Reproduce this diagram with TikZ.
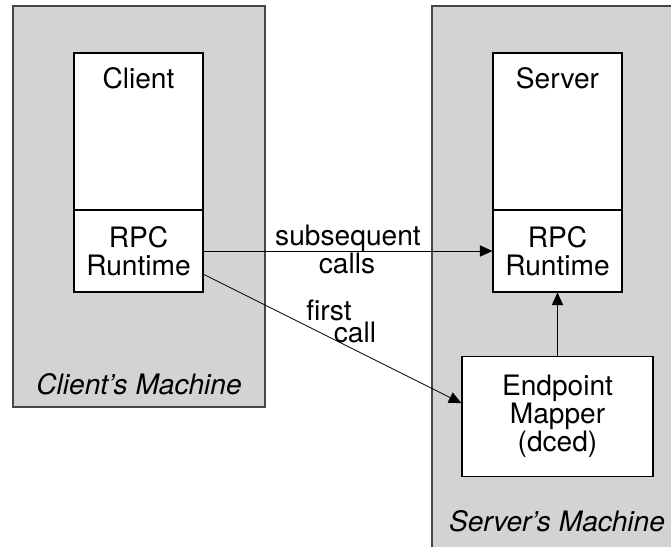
\documentclass[tikz,border=0pt]{standalone}
\usepackage{fontspec}
\setmainfont{TeX Gyre Heros}
\usetikzlibrary{arrows.meta,calc}
\definecolor{machinegray}{RGB}{210,211,213}
\definecolor{edgegray}{RGB}{70,70,70}
\begin{document}
\begin{tikzpicture}[x=0.03cm,y=-0.03cm,
		box/.style={draw,fill=white,line width=0.9pt,inner sep=0pt,align=center},
		arr/.style={-{Triangle[length=0.38cm,width=0.34cm]},line width=0.7pt},
		lbl/.style={font=\fontsize{24}{24}\selectfont,align=center,inner sep=0pt},
		mlbl/.style={lbl,font=\fontsize{24}{24}\selectfont\itshape,anchor=base}]
			\useasboundingbox (0,0) rectangle (671,547);
			% the two machines
			\fill[machinegray] (13,6) rectangle (265,407);
			\draw[edgegray,line width=0.9pt] (13,6) rectangle (265,407);
			\fill[machinegray] (432,6) rectangle (671,547);
			\draw[edgegray,line width=0.9pt] (432,547) -- (432,6) -- (671,6);
			\node[mlbl] (cmlabel) at (139,394) {Client's Machine};
			\node[mlbl] (smlabel) at (557,531) {Server's Machine};
			% client side
			\node[box,minimum width=3.87cm,minimum height=4.71cm] (client) at (138.5,131.5) {};
			\node[lbl,anchor=base] (clienttxt) at (138.5,88) {Client};
			\node[box,lbl,minimum width=3.87cm,minimum height=2.46cm] (crt) at (138.5,251) {RPC\\Runtime};
			% server side
			\node[box,minimum width=3.87cm,minimum height=4.71cm] (server) at (557.5,131.5) {};
			\node[lbl,anchor=base] (servertxt) at (557.5,88) {Server};
			\node[box,lbl,minimum width=3.87cm,minimum height=2.46cm] (srt) at (557.5,251) {RPC\\Runtime};
			\node[box,lbl,minimum width=5.73cm,minimum height=3.6cm] (epm) at (557.5,416.5) {Endpoint\\Mapper\\(dced)};
			% calls
			\draw[arr] (crt.east) -- (crt.east -| srt.west);
			\node[lbl,anchor=base] (subtxt) at (348,245) {subsequent};
			\node[lbl,anchor=base] (callstxt) at (347,273) {calls};
			\draw[arr] ($(crt.east)!0.56!(crt.south east)$) -- ($(epm.west)!0.22!(epm.north west)$);
			\node[lbl,anchor=base] (firsttxt) at (329,320) {first};
			\node[lbl,anchor=base] (calltxt) at (355,342) {call};
			\draw[arr] (epm.north) -- (srt.south);
		\end{tikzpicture}
\end{document}
